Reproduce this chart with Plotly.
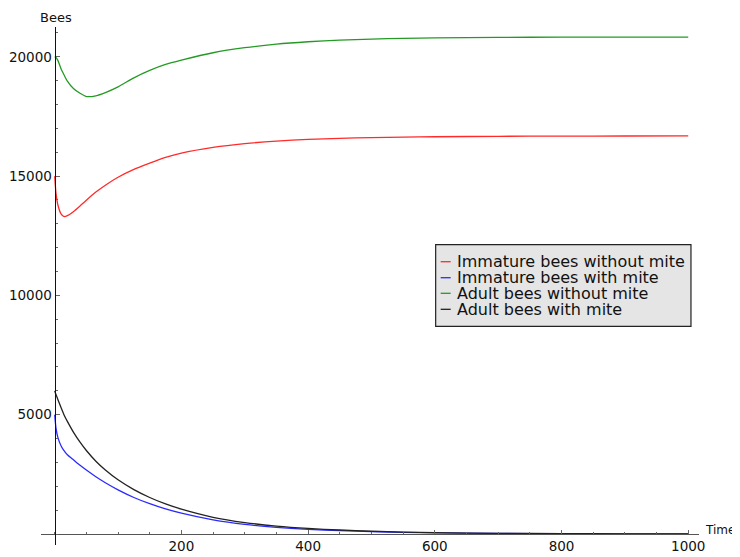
import plotly.graph_objects as go

# ---- data ----
time = [0, 1, 2, 5, 10, 15, 20, 30, 40, 50, 65, 80, 100, 125, 150, 175, 200,
        250, 300, 350, 400, 450, 500, 550, 600, 700, 800, 900, 1000]

immature_without_mite = [15000, 14620, 14300, 13800, 13420, 13300, 13340, 13520, 13750, 13990,
                         14330, 14620, 14950, 15280, 15540, 15780, 15960,
                         16200, 16360, 16470, 16540, 16585, 16615, 16635, 16650,
                         16668, 16677, 16681, 16683]

immature_with_mite = [5000, 4700, 4450, 4050, 3700, 3480, 3320, 3100, 2880, 2680,
                      2400, 2150, 1850, 1530, 1270, 1050, 870,
                      590, 400, 275, 192, 140, 100, 70, 50,
                      25, 12, 6, 3]

adult_without_mite = [20000, 19995, 19975, 19850, 19500, 19230, 18980, 18660, 18470, 18335,
                      18365, 18500, 18740, 19120, 19430, 19680, 19860,
                      20170, 20380, 20530, 20630, 20700, 20745, 20775, 20795,
                      20815, 20822, 20826, 20828]

adult_with_mite = [6000, 5920, 5850, 5640, 5300, 4980, 4720, 4250, 3850, 3500,
                   3050, 2680, 2270, 1860, 1530, 1260, 1040,
                   700, 480, 333, 233, 167, 115, 80, 56,
                   28, 14, 7, 3.5]

series_names = ["Immature bees without mite", "Immature bees with mite",
                "Adult bees without mite", "Adult bees with mite"]
series_values = [immature_without_mite, immature_with_mite,
                 adult_without_mite, adult_with_mite]
series_colors = ["#ff2a2a", "#2a2aff", "#249a24", "#222222"]

x_ticks = [200, 400, 600, 800, 1000]
x_tick_labels = ["200", "400", "600", "800", "1000"]
y_ticks = [5000, 10000, 15000, 20000]
y_tick_labels = ["5000", "10000", "15000", "20000"]

# ---- figure ----
FONT = "DejaVu Sans"
xmin, xmax = -21.6, 1017
ymin, ymax = -461, 21249

fig = go.Figure()
for name, vals, col in zip(series_names, series_values, series_colors):
    fig.add_trace(go.Scatter(x=time, y=vals, mode="lines", name=name,
                             showlegend=False,
                             line=dict(color=col, width=1.3, shape="spline",
                                       smoothing=0.6)))

axis_common = dict(showgrid=False, zeroline=False, showline=True,
                   ticks="inside", ticklen=4, tickwidth=1, tickcolor="#666666",
                   tickfont=dict(family=FONT, size=13.5, color="#111111"),
                   automargin=False)

# legend drawn as a box with sample lines and text labels
legend_box = dict(x0=0.5998, x1=0.9878, y0=0.4222, y1=0.5797)
legend_rows_y = [0.5469, 0.5160, 0.4859, 0.4550]
shapes = [dict(type="rect", xref="paper", yref="paper", layer="above",
               fillcolor="#e5e5e5", line=dict(color="#222222", width=1.2),
               **legend_box)]
annotations = []
for name, col, yy in zip(series_names, series_colors, legend_rows_y):
    shapes.append(dict(type="line", xref="paper", yref="paper", layer="above",
                       x0=0.6074, x1=0.6226, y0=yy, y1=yy,
                       line=dict(color=col, width=1.3)))
    annotations.append(dict(text=name, xref="paper", yref="paper", x=0.6292, y=yy,
                            xanchor="left", yanchor="middle", showarrow=False,
                            font=dict(family=FONT, size=16, color="#111111")))

annotations += [
    dict(text="Bees", xref="paper", yref="paper", x=-0.0046, y=1.0367,
         xanchor="left", yanchor="top", showarrow=False,
         font=dict(family=FONT, size=13, color="#111111")),
    dict(text="Time", xref="paper", yref="paper", x=1.0061, y=0.029,
         xanchor="left", yanchor="middle", showarrow=False,
         font=dict(family=FONT, size=12, color="#111111")),
]

fig.update_layout(
    width=732, height=549,
    margin=dict(l=33, r=41, t=19, b=12),
    paper_bgcolor="white", plot_bgcolor="white",
    font=dict(family=FONT, size=13, color="#111111"),
    showlegend=False,
    xaxis=dict(range=[xmin, xmax], domain=[0, 1], anchor="free",
               position=(0 - ymin) / (ymax - ymin),
               tickmode="array", tickvals=x_ticks, ticktext=x_tick_labels,
               linecolor="#555555", linewidth=1.3,
               minor=dict(tickmode="linear", tick0=0, dtick=50, ticks="inside",
                          ticklen=2, tickcolor="#666666"),
               **axis_common),
    yaxis=dict(range=[ymin, ymax], domain=[0, 1], anchor="free",
               position=(0 - xmin) / (xmax - xmin),
               tickmode="array", tickvals=y_ticks, ticktext=y_tick_labels,
               linecolor="#111111", linewidth=1.3,
               minor=dict(tickmode="linear", tick0=0, dtick=1000, ticks="inside",
                          ticklen=2, tickcolor="#666666"),
               **axis_common),
    shapes=shapes,
    annotations=annotations,
)

fig.write_html("out.html")
